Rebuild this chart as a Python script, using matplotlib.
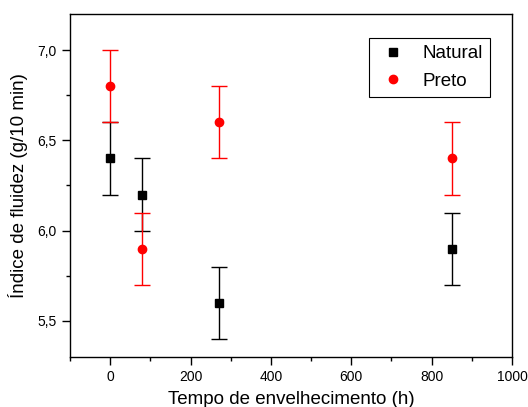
#!/usr/bin/env python3

import matplotlib
matplotlib.use("Agg")
import matplotlib.pyplot as plt
from matplotlib.ticker import FuncFormatter, MultipleLocator

plt.rcParams.update({
    "font.family": ["Liberation Sans", "DejaVu Sans"],
    "font.size": 10,
})

# data
tempo = [0, 80, 270, 850]
natural = [6.4, 6.2, 5.6, 5.9]
natural_err = [0.2, 0.2, 0.2, 0.2]
preto = [6.8, 5.9, 6.6, 6.4]
preto_err = [0.2, 0.2, 0.2, 0.2]

fig = plt.figure(figsize=(5.28, 4.07), dpi=100)
ax = fig.add_axes([0.1326, 0.1229, 0.8371, 0.8427])

ax.errorbar(tempo, natural, yerr=natural_err, fmt="none", ecolor="black",
            elinewidth=1.0, capsize=5.5, capthick=1.0)
ax.errorbar(tempo, preto, yerr=preto_err, fmt="none", ecolor="red",
            elinewidth=1.0, capsize=5.5, capthick=1.0)
ax.plot(tempo, natural, "s", color="black", markersize=5.5, label="Natural")
ax.plot(tempo, preto, "o", color="red", markersize=6, label="Preto")

ax.set_xlim(-100, 1000)
ax.set_ylim(5.3, 7.2)
ax.xaxis.set_major_locator(MultipleLocator(200))
ax.xaxis.set_minor_locator(MultipleLocator(100))
ax.yaxis.set_major_locator(MultipleLocator(0.5))
ax.yaxis.set_minor_locator(MultipleLocator(0.25))
ax.yaxis.set_major_formatter(FuncFormatter(lambda v, p: f"{v:.1f}".replace(".", ",")))

ax.tick_params(which="major", direction="out", length=6, width=1, labelsize=10)
ax.tick_params(which="minor", direction="out", length=3, width=1)
for s in ax.spines.values():
    s.set_linewidth(1.0)

ax.set_xlabel("Tempo de envelhecimento (h)", fontsize=13.5, labelpad=5)
ax.set_ylabel("Índice de fluidez (g/10 min)", fontsize=13.5, labelpad=7)

# legend, Origin-like box
leg = ax.legend(loc="upper right", bbox_to_anchor=(0.95, 0.93), fontsize=13.5,
                fancybox=False, edgecolor="black", framealpha=1,
                handlelength=1.8, handletextpad=0.65, borderpad=0.38,
                labelspacing=0.55, borderaxespad=0)
leg.get_frame().set_linewidth(0.8)

plt.savefig("out.png", dpi=100)
